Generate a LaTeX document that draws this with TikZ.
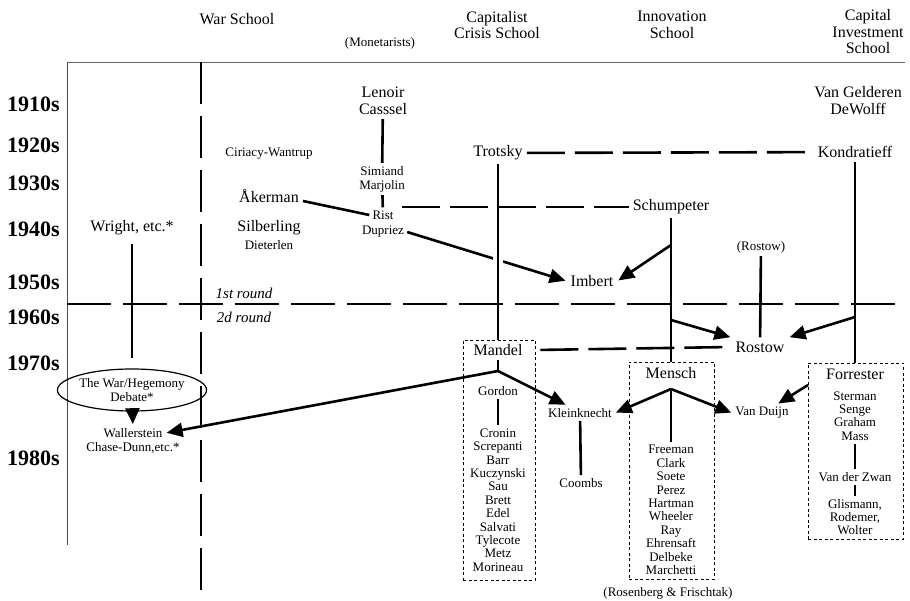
\documentclass[tikz,border=0pt]{standalone}
\usepackage{fontspec}
\setmainfont{Liberation Serif}
\usepackage{tikz}
\usetikzlibrary{shapes.geometric,arrows.meta}

\begin{document}
\begin{tikzpicture}[x=1pt,y=-1pt,>={Triangle[length=16pt,width=14pt]}]
    \tikzstyle{decade}=[font=\fontsize{22}{22}\selectfont\bfseries, anchor=east, inner sep=0pt]
    \tikzstyle{school}=[font=\fontsize{16}{16.5}\selectfont, align=center]
    \tikzstyle{big person}=[font=\fontsize{16}{17}\selectfont, align=center, inner sep=4pt]
    \tikzstyle{person}=[font=\fontsize{13}{14}\selectfont, align=center, inner sep=3pt]
    \tikzstyle{person list}=[font=\fontsize{13}{13.4}\selectfont, align=center, inner sep=3pt]
    \tikzstyle{round label}=[font=\fontsize{15}{15}\selectfont\itshape]
    \tikzstyle{debate}=[draw, ellipse, line width=1.2pt, minimum width=128pt, minimum height=42pt, inner sep=0pt, font=\fontsize{13}{14}\selectfont, align=center]
    \tikzstyle{group box}=[draw, line width=0.9pt, dash pattern=on 3pt off 2.5pt, inner sep=0pt]
    \tikzstyle{link}=[line width=2.6pt]
    \tikzstyle{arrow link}=[link, ->, shorten >=1pt]
    \tikzstyle{dash link}=[link, dash pattern=on 38pt off 10pt]
    \tikzstyle{round line}=[line width=1.6pt, dash pattern=on 44pt off 12pt]

    \useasboundingbox (0,0) rectangle (910,601);

    % Decades down the left side
    \foreach \dec/\y in {1910/104,1920/145,1930/183,1940/229,1950/282,1960/317,1970/363,1980/458}
        \node[decade] (D-\dec) at (60,\y) {\dec s};

    % Schools across the top
    \node[school] (S-war) at (237,19) {War School};
    \node[person] (S-mon) at (380,43) {(Monetarists)};
    \node[school] (S-cap) at (497,25) {Capitalist\\Crisis School};
    \node[school] (S-inn) at (672,25) {Innovation\\School};
    \node[school] (S-inv) at (868,32) {Capital\\Investment\\School};

    % Frame
    \draw[black!60, line width=0.9pt] (67,62) -- (905,62);
    \draw[black!70, line width=0.8pt] (67,62) -- (67,545);
    \draw[line width=1.8pt, dash pattern=on 42pt off 12pt] (201,62) -- (201,601);

    % Names
    \node[big person] (Lenoir) at (383,101) {Lenoir\\Casssel};
    \node[big person] (VanGelderen) at (858,101) {Van Gelderen\\DeWolff};
    \node[person] (Ciriacy) at (269,154) {Ciriacy-Wantrup};
    \node[big person] (Trotsky) at (498,153) {Trotsky};
    \node[big person] (Kondratieff) at (855,152) {Kondratieff};
    \node[person] (Simiand) at (382,179) {Simiand\\Marjolin};
    \node[big person] (Akerman) at (269,196) {Åkerman};
    \node[person] (Rist) at (383,215) {Rist};
    \node[person] (Dupriez) at (383,232) {Dupriez};
    \node[big person] (Schumpeter) at (671,207) {Schumpeter};
    \node[big person] (Wright) at (132,228) {Wright, etc.*};
    \node[big person] (Silberling) at (269,228) {Silberling};
    \node[person] (Dieterlen) at (269,245) {Dieterlen};
    \node[person] (RostowNote) at (761,247) {(Rostow)};
    \node[big person] (Imbert) at (592,281) {Imbert};
    \node[round label] (Round1) at (244,293) {1st round};
    \node[round label] (Round2) at (244,317) {2d round};
    \node[big person] (Rostow) at (760,347) {Rostow};
    \node[big person] (Mandel) at (498,350) {Mandel};
    \node[big person] (Mensch) at (671,373) {Mensch};
    \node[big person] (Forrester) at (855,374) {Forrester};
    \node[debate] (Debate) at (132,390) {The War/Hegemony\\Debate*};
    \node[person] (Gordon) at (498,391) {Gordon};
    \node[person] (Kleinknecht) at (580,413) {Kleinknecht};
    \node[person] (VanDuijn) at (762,413) {Van Duijn};
    \node[person] (Wallerstein) at (133,433) {Wallerstein};
    \node[person] (ChaseDunn) at (133,448) {Chase-Dunn,etc.*};
    \node[person] (Coombs) at (581,483) {Coombs};
    \node[person list] (Cronin) at (498,500) {Cronin\\Screpanti\\Barr\\Kuczynski\\Sau\\Brett\\Edel\\Salvati\\Tylecote\\Metz\\Morineau};
    \node[person list] (Freeman) at (671,510) {Freeman\\Clark\\Soete\\Perez\\Hartman\\Wheeler\\Ray\\Ehrensaft\\Delbeke\\Marchetti};
    \node[person list] (Sterman) at (855,416) {Sterman\\Senge\\Graham\\Mass};
    \node[person] (VanderZwan) at (855,477) {Van der Zwan};
    \node[person list] (Glismann) at (855,517) {Glismann,\\Rodemer,\\Wolter};
    \node[person] (Rosenberg) at (668,593) {(Rosenberg \& Frischtak)};

    % Dashed groups
    \node[group box, minimum width=72pt, minimum height=240pt] (G-cap) at (499,460) {};
    \node[group box, minimum width=85pt, minimum height=217pt] (G-inn) at (671.5,470.5) {};
    \node[group box, minimum width=95pt, minimum height=176pt] (G-inv) at (855.5,451) {};

    % Points on the lines
    \coordinate (M-j) at (498,371);
    \coordinate (N-j) at (671,389);
    \coordinate (S-imb) at (671,245);
    \coordinate (S-ros) at (671,320);
    \coordinate (K-ros) at (855,317);
    \coordinate (R-dash) at (402,207);
    \coordinate (F-out) at (808,385);

    % Links
    \path[link] (Lenoir) edge (Simiand);
    \path[link] (Simiand) edge (Rist);
    \path[link] ([yshift=-5pt]Akerman.east) edge (Rist.west);
    \path[link] (Wright) edge[shorten >=10pt, shorten <=5pt] (Debate);
    \draw[arrow link] (Debate) -- (Wallerstein);
    \draw[arrow link] (M-j) -- (Wallerstein.east);
    \draw[link] (Mandel) -- (M-j);
    \draw[arrow link] (M-j) -- (Kleinknecht.150);
    \draw[link] (Gordon) -- (Cronin);
    \draw[link] (Kleinknecht) -- (Coombs);
    \draw[arrow link] (N-j) -- (Kleinknecht.east);
    \draw[arrow link] (N-j) -- (VanDuijn.west);
    \draw[link] (N-j) -- (Freeman);
    \draw[arrow link] (F-out) -- (VanDuijn.30);
    \draw[link] (Sterman) -- (VanderZwan);
    \draw[link] (VanderZwan) -- (Glismann);
    \draw[arrow link] (Dupriez.east) -- (Imbert.west);
    \draw[arrow link] (S-imb) -- (Imbert.east);
    \draw[arrow link] (S-ros) -- (Rostow.north west);
    \draw[arrow link] (K-ros) -- (Rostow.north east);
    \draw[link] (RostowNote) -- (Rostow);
    \draw[link] (Schumpeter) -- (Schumpeter |- G-inn.north);
    \draw[link] (Kondratieff) -- (Kondratieff |- G-inv.north);
    \draw[link, preaction={draw=white, line width=10pt}] (Trotsky) -- (Trotsky |- G-cap.north);

    % Dashed links
    \draw[dash link] (Trotsky) -- (Kondratieff);
    \draw[dash link] (R-dash) -- (Schumpeter);
    \draw[dash link, shorten <=5pt] (Mandel.east -| G-cap.east) -- (Rostow.west);
    \draw[round line] (67,304) -- (905,304);
\end{tikzpicture}
\end{document}
